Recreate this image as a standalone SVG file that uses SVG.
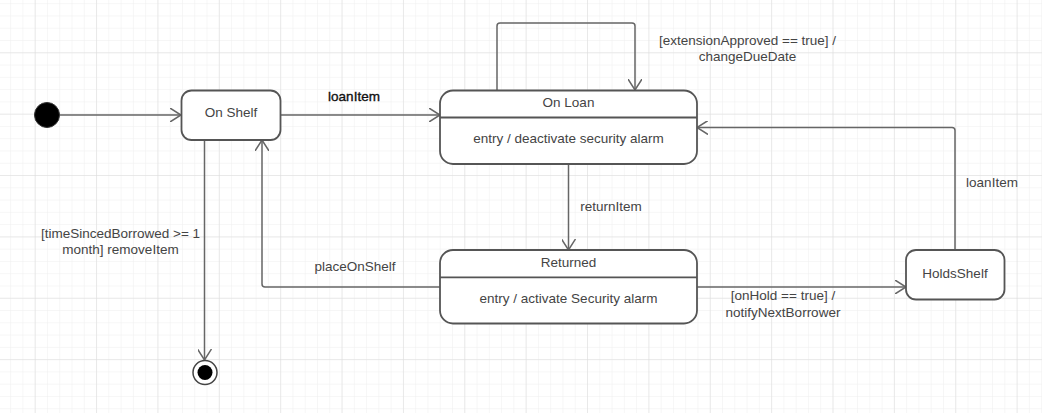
<svg xmlns="http://www.w3.org/2000/svg" width="1042" height="413" viewBox="0 0 1042 413">
  <style>
    .state { fill: #ffffff; stroke: #555555; stroke-width: 1.8; }
    .div { stroke: #555555; stroke-width: 1.8; }
    .conn { fill: none; stroke: #666666; stroke-width: 1.5; }
    .t { font-family: "Liberation Sans", Arial, sans-serif; font-size: 13.5px; fill: #444444; text-anchor: middle; }
    .tb { font-family: "Liberation Sans", Arial, sans-serif; font-size: 13.5px; fill: #111111; stroke: #111111; stroke-width: 0.35; text-anchor: middle; }
  </style>
  <defs>
    <pattern id="minor" x="34.7" y="52.3" width="12.274" height="12.274" patternUnits="userSpaceOnUse">
      <path d="M0 0 H12.274 M0 0 V12.274" fill="none" stroke="#eeeeee" stroke-width="1"/>
    </pattern>
    <pattern id="major" x="34.7" y="52.3" width="61.37" height="61.37" patternUnits="userSpaceOnUse">
      <path d="M0 0 H61.37 M0 0 V61.37" fill="none" stroke="#dcdcdc" stroke-width="1"/>
    </pattern>
    <marker id="arr" viewBox="0 0 12 14" refX="11" refY="7" markerWidth="12" markerHeight="14" markerUnits="userSpaceOnUse" orient="auto">
      <path d="M0 0 L11 7 L0 14" fill="none" stroke="#666666" stroke-width="1.5"/>
    </marker>
  </defs>
  <rect width="1042" height="413" fill="#ffffff"/>
  <rect width="1042" height="413" fill="url(#minor)"/>
  <rect width="1042" height="413" fill="url(#major)"/>

  <g id="connectors">
    <path class="conn" d="M60 115 H181" marker-end="url(#arr)"/>
    <path class="conn" d="M281 115 H440" marker-end="url(#arr)"/>
    <path class="conn" d="M497 90 V26 Q497 23 500 23 H632 Q635 23 635 26 V90" marker-end="url(#arr)"/>
    <path class="conn" d="M568.5 164 V250" marker-end="url(#arr)"/>
    <path class="conn" d="M955 250 V130.5 Q955 127.5 952 127.5 H697" marker-end="url(#arr)"/>
    <path class="conn" d="M697 287 H906" marker-end="url(#arr)"/>
    <path class="conn" d="M440 287 H265 Q262 287 262 284 V140" marker-end="url(#arr)"/>
    <path class="conn" d="M204.5 140 V360" marker-end="url(#arr)"/>
    <text class="tb" x="354" y="100.5">loanItem</text>
    <text class="t" x="747.5" y="45">[extensionApproved == true] /</text>
    <text class="t" x="747.5" y="60.5">changeDueDate</text>
    <text class="t" x="611" y="211">returnItem</text>
    <text class="t" x="992" y="186.5">loanItem</text>
    <text class="t" x="783" y="300">[onHold == true] /</text>
    <text class="t" x="783" y="316.5">notifyNextBorrower</text>
    <text class="t" x="355" y="271">placeOnShelf</text>
    <text class="t" x="120.5" y="238">[timeSincedBorrowed &gt;= 1</text>
    <text class="t" x="120.5" y="254">month] removeItem</text>
  </g>

  <g id="initial">
    <circle cx="47" cy="115" r="12.5" fill="#000000" stroke="#333333" stroke-width="1"/>
  </g>

  <g id="onShelf">
    <rect class="state" x="181.5" y="90.5" width="99" height="49.5" rx="10"/>
    <text class="t" x="231" y="117">On Shelf</text>
  </g>

  <g id="onLoan">
    <rect class="state" x="440" y="90.5" width="257" height="73.5" rx="13"/>
    <line class="div" x1="440" y1="117.5" x2="697" y2="117.5"/>
    <text class="t" x="568.5" y="107">On Loan</text>
    <text class="t" x="568.5" y="143">entry / deactivate security alarm</text>
  </g>

  <g id="returned">
    <rect class="state" x="440" y="250" width="257" height="73.5" rx="13"/>
    <line class="div" x1="440" y1="277.3" x2="697" y2="277.3"/>
    <text class="t" x="568.5" y="266.5">Returned</text>
    <text class="t" x="568.5" y="303">entry / activate Security alarm</text>
  </g>

  <g id="holdsShelf">
    <rect class="state" x="906" y="250" width="98.5" height="49.5" rx="10"/>
    <text class="t" x="955" y="277.5">HoldsShelf</text>
  </g>

  <g id="final">
    <circle cx="205" cy="372.5" r="12" fill="#ffffff" stroke="#444444" stroke-width="1.5"/>
    <circle cx="205" cy="372.5" r="7.5" fill="#000000"/>
  </g>
</svg>
